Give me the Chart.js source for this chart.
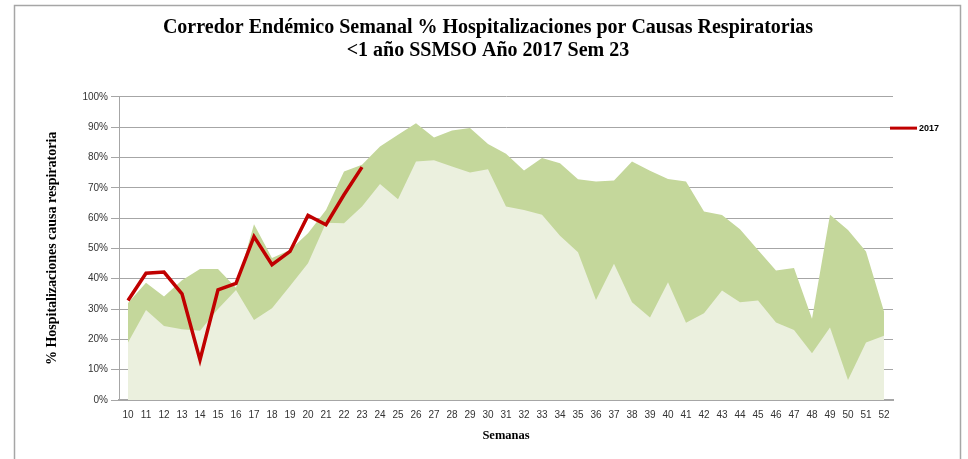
<!DOCTYPE html>
<html>
<head>
<meta charset="utf-8">
<script src="https://cdn.jsdelivr.net/npm/chart.js@4/dist/chart.umd.min.js"></script>
<style>
  html, body { margin: 0; padding: 0; background: #fff; }
  #wrap { width: 968px; height: 459px; position: relative; }
</style>
</head>
<body>
<div id="wrap"><canvas id="corredor"></canvas></div>
<script>
// ─── Data ───────────────────────────────────────────────────────
const semanas = ["10","11","12","13","14","15","16","17","18","19","20","21","22","23","24","25","26","27","28","29","30",
  "31","32","33","34","35","36","37","38","39","40","41","42","43","44","45","46","47","48","49","50","51","52"];

// upper edge of the corridor (dark green)
const zonaSuperior = [32, 38.7, 34.1, 39.5, 43.2, 43.2, 37, 58, 46.8, 49.5, 55, 62.7, 75.4, 77.6, 83.6, 87.5, 91.3, 86.6,
  88.9, 89.7, 84.4, 81.2, 75.7, 79.8, 78.1, 72.8, 72.1, 72.4, 78.7, 75.6, 72.9, 72.1, 62.2, 61, 56.3, 49.5, 42.7, 43.5,
  26.8, 61.1, 56.1, 49, 29.2];

// lower edge of the corridor (light green)
const zonaInferior = [19, 29.7, 24.4, 23.3, 22.8, 30, 36.3, 26.4, 30.3, 37.6, 45.1, 58.5, 58.3, 63.8, 71.2, 66.2, 78.7,
  79.1, 77, 75, 76.1, 63.8, 62.7, 61.1, 54.2, 48.7, 33, 44.9, 32.2, 27.2, 38.8, 25.5, 28.6, 36.1, 32.2, 32.8, 25.6, 23.1,
  15.4, 23.9, 6.6, 19, 21.2];

// 2017, weeks 10-23
const anio2017 = [32.8, 41.8, 42.2, 35, 13.2, 36.3, 38.5, 53.9, 44.6, 49, 60.9, 57.8, 67.7, 76.8];

const yTicks = [0, 10, 20, 30, 40, 50, 60, 70, 80, 90, 100];

// ─── Plugins: outer frame + small legend ────────────────────────
const frame = {
  id: "frame",
  beforeDraw(chart) {
    const c = chart.ctx;
    c.save();
    c.fillStyle = "#fff";
    c.fillRect(0, 0, chart.width, chart.height);
    c.strokeStyle = "#a6a6a6";
    c.lineWidth = 1.5;
    c.strokeRect(14.5, 5.5, 946, 470);
    c.restore();
  }
};

const miniLegend = {
  id: "miniLegend",
  afterDraw(chart) {
    const ds = chart.data.datasets[0];
    const c = chart.ctx;
    const x = chart.chartArea.right - 3;
    const y = chart.scales.y.getPixelForValue(90) + 1;
    c.save();
    c.strokeStyle = ds.borderColor;
    c.lineWidth = 3;
    c.beginPath();
    c.moveTo(x, y);
    c.lineTo(x + 27, y);
    c.stroke();
    c.fillStyle = "#000";
    c.font = "bold 9px 'Liberation Sans'";
    c.textBaseline = "middle";
    c.fillText(ds.label, x + 29, y);
    c.restore();
  }
};

new Chart(document.getElementById("corredor").getContext("2d"), {
  type: "line",
  data: {
    labels: semanas,
    datasets: [
      {
        label: "2017",
        data: anio2017,
        borderColor: "#C00000",
        borderWidth: 3.5,
        pointRadius: 0,
        fill: false,
        tension: 0,
        order: 0
      },
      {
        label: "Zona inferior",
        data: zonaInferior,
        borderWidth: 0,
        borderColor: "rgba(0,0,0,0)",
        backgroundColor: "#EBF0DE",
        pointRadius: 0,
        fill: "origin",
        tension: 0,
        order: 1
      },
      {
        label: "Zona superior",
        data: zonaSuperior,
        borderWidth: 0,
        borderColor: "rgba(0,0,0,0)",
        backgroundColor: "#C4D79B",
        pointRadius: 0,
        fill: "origin",
        tension: 0,
        order: 2
      }
    ]
  },
  options: {
    responsive: true,
    maintainAspectRatio: false,
    animation: false,
    layout: { padding: { left: 8, right: 0, top: 0, bottom: 0 } },
    plugins: {
      legend: { display: false },
      tooltip: { enabled: false },
      title: {
        display: true,
        text: ["Corredor Endémico Semanal % Hospitalizaciones por Causas Respiratorias", "<1 año SSMSO Año 2017 Sem 23"],
        color: "#000",
        font: { family: "'Liberation Serif'", size: 20, weight: "bold", lineHeight: 1.12 },
        padding: { top: 17, bottom: 35 }
      }
    },
    scales: {
      x: {
        offset: true,
        grid: { display: false, drawTicks: false },
        border: { display: true, color: "#a6a6a6", width: 2 },
        ticks: {
          color: "#333",
          font: { family: "'Liberation Sans'", size: 10 },
          padding: 9,
          maxRotation: 0,
          autoSkip: false
        },
        title: {
          display: true,
          text: "Semanas",
          color: "#000",
          font: { family: "'Liberation Serif'", size: 12.5, weight: "bold" },
          padding: { top: 0, bottom: 16 }
        },
        afterFit(scale) { scale.height = 59; }
      },
      y: {
        min: 0,
        max: 100,
        afterBuildTicks(scale) { scale.ticks = yTicks.map(v => ({ value: v })); },
        grid: { color: "#a6a6a6", lineWidth: 1, tickLength: 8 },
        border: { display: true, color: "#a6a6a6", width: 1 },
        ticks: {
          color: "#333",
          font: { family: "'Liberation Sans'", size: 10 },
          padding: 3,
          callback: v => v + "%"
        },
        title: {
          display: true,
          text: "% Hospitalizaciones causa respiratoria",
          color: "#000",
          font: { family: "'Liberation Serif'", size: 14, weight: "bold" },
          padding: { top: 36, bottom: 0 }
        },
        afterFit(scale) { scale.width = 111; }
      },
      // empty right-hand strip that keeps room for the legend
      yDer: {
        position: "right",
        display: true,
        grid: { display: false, drawTicks: false },
        border: { display: false },
        ticks: { display: false },
        afterFit(scale) { scale.width = 75; }
      }
    }
  },
  plugins: [frame, miniLegend]
});
</script>
</body>
</html>
